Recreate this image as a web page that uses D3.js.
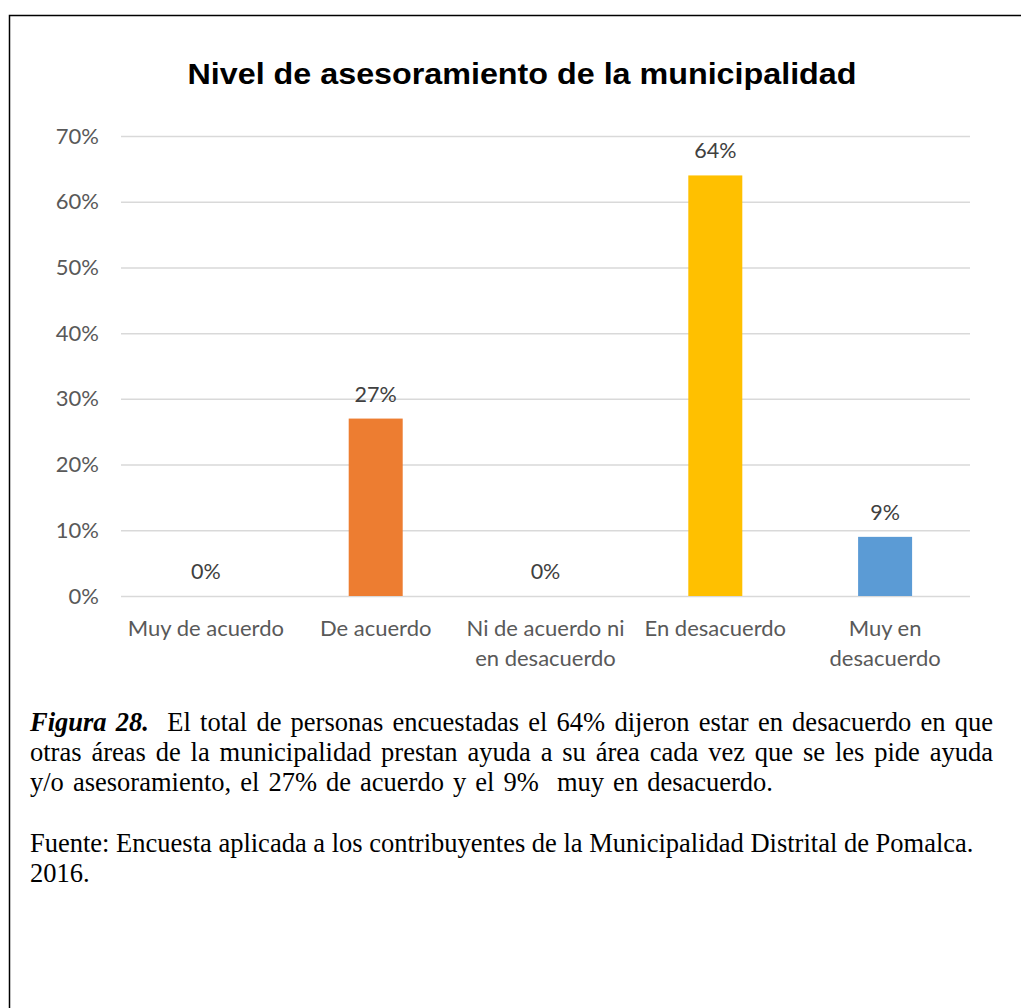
<!DOCTYPE html>
<html>
<head>
<meta charset="utf-8">
<script src="https://cdn.jsdelivr.net/npm/d3@7"></script>
<style>
  html, body { margin: 0; padding: 0; background: #fff; }
  svg { display: block; }
</style>
</head>
<body>
<script>
// Survey categories, shares and bar colours
const categories = ["Muy de acuerdo", "De acuerdo", "Ni de acuerdo ni en desacuerdo", "En desacuerdo", "Muy en desacuerdo"];
const categoryLines = [["Muy de acuerdo"], ["De acuerdo"], ["Ni de acuerdo ni", "en desacuerdo"], ["En desacuerdo"], ["Muy en", "desacuerdo"]];
const values = [0, 0.27, 0, 0.64, 0.09];
const barColors = ["#4472c4", "#ed7d31", "#a5a5a5", "#ffc000", "#5b9bd5"];
const yTicks = [0, 0.1, 0.2, 0.3, 0.4, 0.5, 0.6, 0.7];

const title = "Nivel de asesoramiento de la municipalidad";
const captionLines = [
  { lead: "Figura 28.", text: "  El total de personas encuestadas el 64% dijeron estar en desacuerdo en que", width: 963 },
  { lead: "", text: "otras áreas de la municipalidad prestan ayuda a su área cada vez que se les pide ayuda", width: 963 },
  { lead: "", text: "y/o asesoramiento, el 27% de acuerdo y el 9%  muy en desacuerdo.", width: 743 }
];
const sourceLines = [
  "Fuente: Encuesta aplicada a los contribuyentes de la Municipalidad Distrital de Pomalca.",
  "2016."
];

const W = 1021, H = 1008;
const svg = d3.select("body").append("svg").attr("width", W).attr("height", H);

// Frame around the figure
svg.append("rect")
  .attr("x", 9.5).attr("y", 15.5)
  .attr("width", 1040).attr("height", 1040)
  .attr("fill", "none").attr("stroke", "#000").attr("stroke-width", 1.5);

// Plot area
const plot = { left: 121, right: 970, top: 136, bottom: 596 };

const x = d3.scaleBand().domain(categories).range([plot.left, plot.right]).paddingInner(0.682).paddingOuter(0.341);
const y = d3.scaleLinear().domain([0, 0.7]).range([plot.bottom, plot.top]);

const labelFont = "Lato, 'Open Sans', sans-serif";
const grey = "#595959";
const fmt = d3.format(".0%");

// Gridlines and y tick labels
const yAxis = d3.axisLeft(y).tickValues(yTicks).tickFormat(fmt)
  .tickSize(-(plot.right - plot.left)).tickPadding(22);
const gy = svg.append("g").attr("transform", `translate(${plot.left},0)`).call(yAxis);
gy.select(".domain").remove();
gy.selectAll(".tick line").attr("stroke", "#d9d9d9").attr("stroke-width", 1.5);
gy.selectAll(".tick text")
  .attr("fill", grey).style("font-family", labelFont).style("font-size", "22px");

// Bars
svg.append("g").selectAll("rect").data(categories).join("rect")
  .attr("x", d => x(d))
  .attr("width", x.bandwidth())
  .attr("y", (d, i) => y(values[i]))
  .attr("height", (d, i) => y(0) - y(values[i]))
  .attr("fill", (d, i) => barColors[i]);

// Value labels
svg.append("g").selectAll("text").data(categories).join("text")
  .attr("x", d => x(d) + x.bandwidth() / 2)
  .attr("y", (d, i) => y(values[i]) - 17)
  .attr("text-anchor", "middle")
  .attr("fill", "#404040")
  .style("font-family", labelFont).style("font-size", "21.5px")
  .text((d, i) => fmt(values[i]));

// Category labels (wrapped)
const xl = svg.append("g").selectAll("text").data(categories).join("text")
  .attr("text-anchor", "middle")
  .attr("fill", grey)
  .style("font-family", labelFont).style("font-size", "22px");
xl.each(function (d, i) {
  const cx = x(d) + x.bandwidth() / 2;
  d3.select(this).selectAll("tspan").data(categoryLines[i]).join("tspan")
    .attr("x", cx)
    .attr("y", (l, j) => 636 + j * 30)
    .text(l => l);
});

// Chart title
svg.append("text")
  .attr("x", 522).attr("y", 84)
  .attr("text-anchor", "middle")
  .attr("fill", "#000")
  .style("font-family", "'Liberation Sans', Arial, sans-serif")
  .style("font-weight", "bold").style("font-size", "29px")
  .attr("textLength", 669).attr("lengthAdjust", "spacingAndGlyphs")
  .text(title);

// Caption, spread across its line width by widening the word gaps
const serif = "'Liberation Serif', 'Times New Roman', serif";
const capLeft = 30;
function spread(t, target) {
  const node = t.node();
  const natural = node.getComputedTextLength();
  const gaps = (node.textContent.match(/ /g) || []).length;
  if (gaps > 0 && target > natural) t.style("word-spacing", ((target - natural) / gaps) + "px");
}
captionLines.forEach((c, i) => {
  const t = svg.append("text")
    .attr("x", capLeft).attr("y", 731 + i * 30)
    .attr("fill", "#000")
    .style("font-family", serif).style("font-size", "26.5px")
    .style("white-space", "pre");
  if (c.lead) t.append("tspan").style("font-weight", "bold").style("font-style", "italic").text(c.lead);
  t.append("tspan").text(c.text);
  spread(t, c.width);
});

sourceLines.forEach((s, i) => {
  svg.append("text")
    .attr("x", capLeft).attr("y", 852 + i * 30)
    .attr("fill", "#000")
    .style("font-family", serif).style("font-size", "26.5px")
    .text(s);
});
</script>
</body>
</html>
